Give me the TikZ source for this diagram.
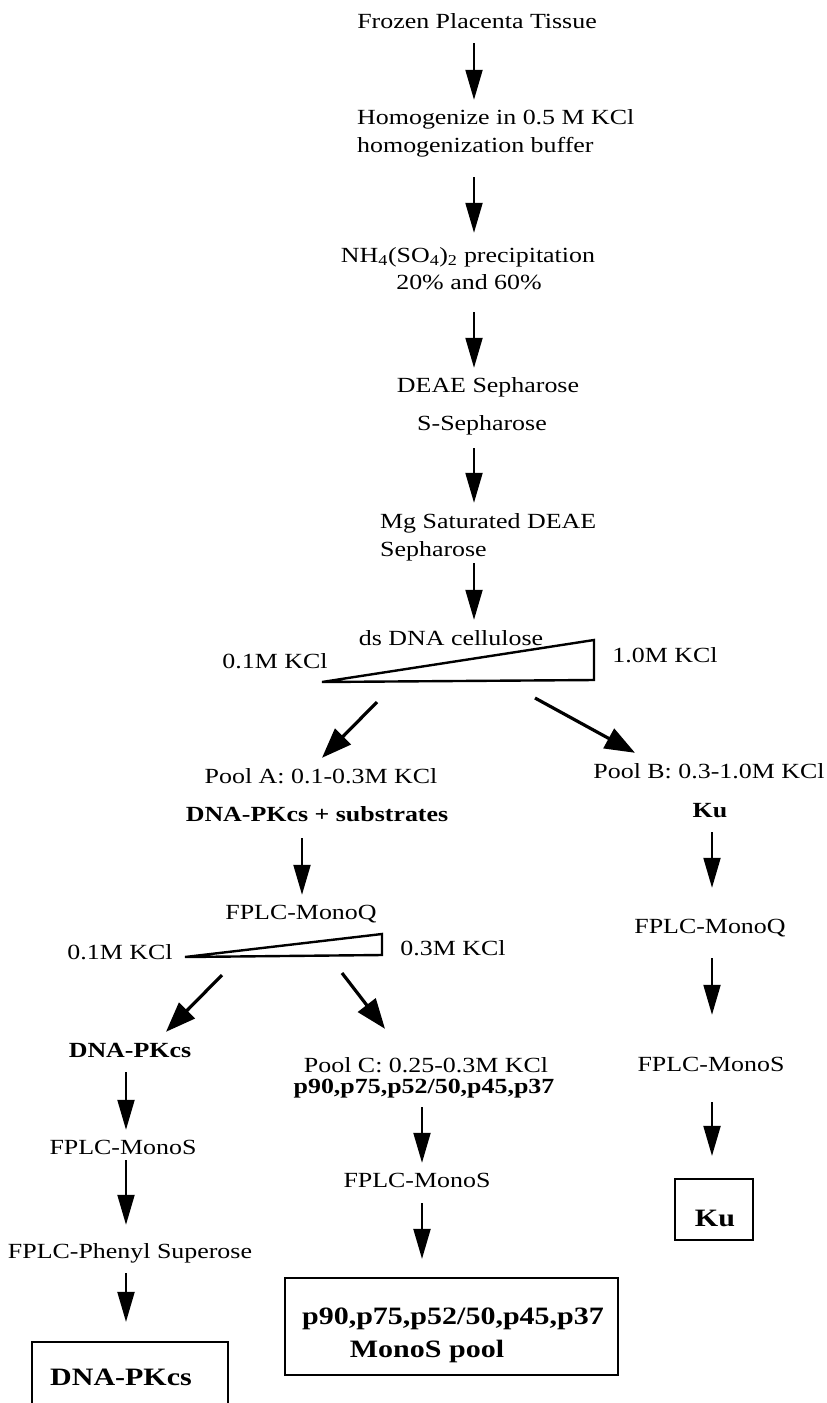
\documentclass[tikz,border=0pt]{standalone}
\usepackage{fontspec}
\setmainfont{Liberation Serif}[FakeStretch=1.2]
\usetikzlibrary{arrows.meta}
\begin{document}
\begin{tikzpicture}[x=1pt,y=-1pt,
  txt/.style={inner sep=0pt, text height=15pt, text depth=5pt, anchor=base, font=\fontsize{21.6}{26}\selectfont},
  txtb/.style={txt, font=\fontsize{21.6}{26}\selectfont\bfseries},
  boxt/.style={inner sep=0pt, anchor=base, font=\fontsize{25}{30}\selectfont\bfseries},
  boxn/.style={draw, line width=2.2pt, inner sep=0pt},
  arr/.style={line width=2pt, -{Triangle[length=30pt,width=17pt]}},
  darr/.style={line width=3.2pt, -{Triangle[length=30pt,width=22pt]}},
  wedge/.style={line width=2.4pt, line join=miter}
]
\useasboundingbox (0,0) rectangle (827,1403);

% column coordinates
\coordinate (c1) at (474,0);
\coordinate (cL) at (302,0);
\coordinate (cR) at (712,0);
\coordinate (cLL) at (126,0);
\coordinate (cM) at (422,0);

% main column
\node[txt] (frozen) at (477,28) {Frozen Placenta Tissue};
\node[txt, anchor=base west] (homA) at (357,124) {Homogenize in 0.5 M KCl};
\node[txt, anchor=base west] (homB) at (357,152) {homogenization buffer};
\node[txt] (nh4) at (468,262) {NH\textsubscript{4}(SO\textsubscript{4})\textsubscript{2} precipitation};
\node[txt] (pct) at (469,289) {20\% and 60\%};
\node[txt] (deae) at (488,392) {DEAE Sepharose};
\node[txt] (ssep) at (482,430) {S-Sepharose};
\node[txt, anchor=base west] (mgA) at (380,528) {Mg Saturated DEAE};
\node[txt, anchor=base west] (mgB) at (380,556) {Sepharose};
\node[txt] (ds) at (451,645) {ds DNA cellulose};
\node[txt] (k01a) at (275,668) {0.1M KCl};
\node[txt] (k10) at (665,662) {1.0M KCl};

% first gradient
\coordinate (w1l) at (322,682);
\coordinate (w1t) at (594,640);
\coordinate (w1b) at (594,680);
\draw[wedge] (w1l) -- (w1t) -- (w1b) -- cycle;

\node[txt] (poolA) at (321,783) {Pool A: 0.1-0.3M KCl};
\node[txtb] (pkA) at (317,821) {DNA-PKcs + substrates};
\node[txt] (poolB) at (709,778) {Pool B: 0.3-1.0M KCl};
\node[txtb] (kuA) at (710,817) {Ku};

\node[txt] (mqA) at (301,919) {FPLC-MonoQ};
\node[txt] (k01b) at (120,959) {0.1M KCl};
\node[txt] (k03) at (453,955) {0.3M KCl};
\node[txt] (mqB) at (710,933) {FPLC-MonoQ};

% second gradient
\coordinate (w2l) at (185,957);
\coordinate (w2t) at (382,934);
\coordinate (w2b) at (382,955);
\draw[wedge] (w2l) -- (w2t) -- (w2b) -- cycle;

\node[txtb] (pkB) at (130,1057) {DNA-PKcs};
\node[txt] (poolC) at (426,1072) {Pool C: 0.25-0.3M KCl};
\node[txtb] (pC) at (424,1093) {p90,p75,p52/50,p45,p37};
\node[txt] (msB) at (711,1071) {FPLC-MonoS};
\node[txt] (msA) at (123,1154) {FPLC-MonoS};
\node[txt] (msC) at (417,1187) {FPLC-MonoS};
\node[txt] (phen) at (130,1258) {FPLC-Phenyl Superose};

% result boxes
\node[boxn, minimum width=78pt, minimum height=61pt] (kubox) at (714,1209.5) {};
\node[boxt] (kut) at (715,1226) {Ku};
\node[boxn, minimum width=333pt, minimum height=97pt] (poolbox) at (451.5,1326.5) {};
\node[boxt] (pbt1) at (453,1324) {p90,p75,p52/50,p45,p37};
\node[boxt] (pbt2) at (427,1357) {MonoS pool};
\node[boxn, minimum width=196pt, minimum height=70pt] (dnabox) at (130,1377) {};
\node[boxt] (dnat) at (121,1385) {DNA-PKcs};

% vertical arrows
\draw[arr, shorten <=10pt, shorten >=9pt] (frozen.south -| c1) -- (homA.north -| c1);
\draw[arr, shorten <=20pt, shorten >=14pt] (homB.south -| c1) -- (nh4.north -| c1);
\draw[arr, shorten <=18pt, shorten >=9pt] (pct.south -| c1) -- (deae.north -| c1);
\draw[arr, shorten <=13pt, shorten >=10pt] (ssep.south -| c1) -- (mgA.north -| c1);
\draw[arr, shorten <=2pt, shorten >=10pt] (mgB.south -| c1) -- (ds.north -| c1);
\draw[arr, shorten <=12pt, shorten >=9pt] (pkA.south -| cL) -- (mqA.north -| cL);
\draw[arr, shorten <=10pt, shorten >=30pt] (kuA.south -| cR) -- (mqB.north -| cR);
\draw[arr, shorten <=20pt, shorten >=41pt] (mqB.south -| cR) -- (msB.north -| cR);
\draw[arr, shorten <=26pt, shorten >=22pt] (msB.south -| cR) -- (kubox.north -| cR);
\draw[arr, shorten <=10pt, shorten >=9pt] (pkB.south -| cLL) -- (msA.north -| cLL);
\draw[arr, shorten <=1pt, shorten >=18pt] (msA.south -| cLL) -- (phen.north -| cLL);
\draw[arr, shorten <=10pt, shorten >=19pt] (phen.south -| cLL) -- (dnabox.north -| cLL);
\draw[arr, shorten <=9pt, shorten >=9pt] (pC.south -| cM) -- (msC.north -| cM);
\draw[arr, shorten <=11pt, shorten >=18pt] (msC.south -| cM) -- (poolbox.north -| cM);

% diagonal arrows
\coordinate (d1) at (377,702);
\coordinate (d2) at (535,698);
\coordinate (d3) at (222,975);
\coordinate (d4) at (342,973);
\draw[darr] (d1) -- ([xshift=1pt,yshift=10pt]poolA.north);
\draw[darr] (d2) -- ([xshift=-74pt,yshift=10pt]poolB.north);
\draw[darr] (d3) -- ([xshift=36pt,yshift=10pt]pkB.north);
\draw[darr] (d4) -- ([xshift=-41pt,yshift=28pt]poolC.north);
\end{tikzpicture}
\end{document}
